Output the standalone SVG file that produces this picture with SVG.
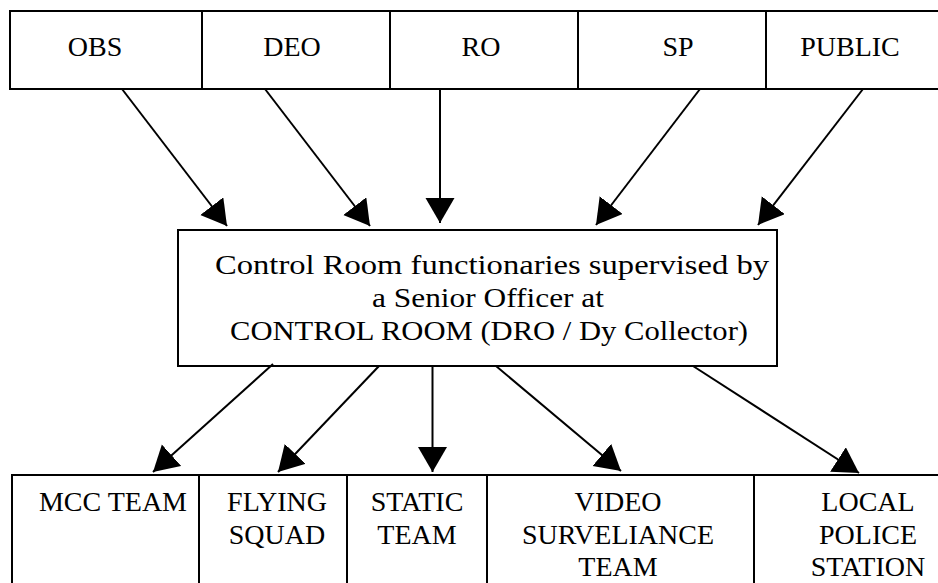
<svg xmlns="http://www.w3.org/2000/svg" width="938" height="583" viewBox="0 0 938 583">
<style>
.box{fill:#fff;stroke:#000;stroke-width:2}
.div{stroke:#000;stroke-width:2}
.t{font-size:28px;fill:#000;text-anchor:middle}
.c{stroke:#000;stroke-width:2;fill:none;marker-end:url(#ah)}
</style>
<defs>
<marker id="ah" markerUnits="userSpaceOnUse" markerWidth="26" markerHeight="30" refX="25" refY="14.5" orient="auto" viewBox="0 0 26 30">
<path d="M0,0 L25,14.5 L0,29 Z" fill="#000"/>
</marker>
</defs>
<rect width="938" height="583" fill="#fff"/>
<g font-family="Liberation Serif, DejaVu Serif, Times New Roman, serif">
<g id="top-row">
<rect class="box" x="10" y="11" width="940" height="78"/>
<line class="div" x1="202" y1="11" x2="202" y2="89"/>
<line class="div" x1="390" y1="11" x2="390" y2="89"/>
<line class="div" x1="578" y1="11" x2="578" y2="89"/>
<line class="div" x1="766" y1="11" x2="766" y2="89"/>
</g>
<g id="obs"><text class="t" x="95" y="56">OBS</text></g>
<g id="deo"><text class="t" x="292" y="56">DEO</text></g>
<g id="ro"><text class="t" x="481" y="56">RO</text></g>
<g id="sp"><text class="t" x="678" y="56">SP</text></g>
<g id="public"><text class="t" x="850" y="56">PUBLIC</text></g>
<g id="control-room">
<rect class="box" x="178" y="230" width="599" height="136"/>
<text class="t" x="492" y="274" textLength="554" lengthAdjust="spacingAndGlyphs">Control Room functionaries supervised by</text>
<text class="t" x="488" y="307" textLength="232" lengthAdjust="spacingAndGlyphs">a Senior Officer at</text>
<text class="t" x="489" y="340" textLength="518" lengthAdjust="spacingAndGlyphs">CONTROL ROOM (DRO / Dy Collector)</text>
</g>
<g id="bottom-row">
<rect class="box" x="12" y="475" width="940" height="120"/>
<line class="div" x1="199" y1="475" x2="199" y2="583"/>
<line class="div" x1="347" y1="475" x2="347" y2="583"/>
<line class="div" x1="487" y1="475" x2="487" y2="583"/>
<line class="div" x1="754" y1="475" x2="754" y2="583"/>
</g>
<g id="mcc-team"><text class="t" x="113" y="511">MCC TEAM</text></g>
<g id="flying-squad"><text class="t" x="277" y="511">FLYING</text><text class="t" x="277" y="544">SQUAD</text></g>
<g id="static-team"><text class="t" x="417" y="511">STATIC</text><text class="t" x="417" y="544">TEAM</text></g>
<g id="video-team"><text class="t" x="618" y="511">VIDEO</text><text class="t" x="618" y="544">SURVELIANCE</text><text class="t" x="618" y="576">TEAM</text></g>
<g id="police-station"><text class="t" x="868" y="511">LOCAL</text><text class="t" x="868" y="544">POLICE</text><text class="t" x="868" y="576">STATION</text></g>
</g>
<g id="connectors">
<line class="c" x1="122" y1="89" x2="227" y2="226"/>
<line class="c" x1="265" y1="89" x2="370" y2="226"/>
<line class="c" x1="440" y1="89" x2="440" y2="223"/>
<line class="c" x1="700" y1="89" x2="596" y2="225"/>
<line class="c" x1="863" y1="89" x2="758" y2="225"/>
<line class="c" x1="273" y1="364" x2="153" y2="472"/>
<line class="c" x1="379" y1="366" x2="278" y2="472"/>
<line class="c" x1="432.5" y1="366" x2="432.5" y2="472"/>
<line class="c" x1="496" y1="366" x2="621" y2="471"/>
<line class="c" x1="693" y1="366" x2="859" y2="473"/>
</g>
</svg>
